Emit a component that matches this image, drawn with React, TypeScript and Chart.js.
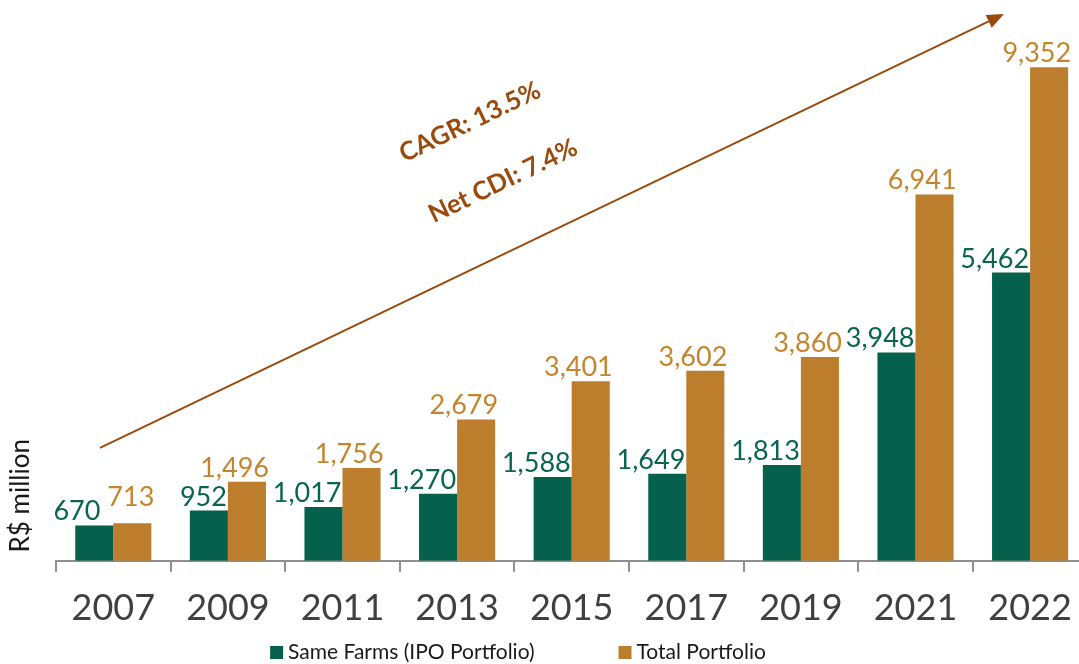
import React, { useEffect, useRef } from "react";
import { Chart, registerables } from "chart.js";

Chart.register(...registerables);

// ---- data ----
const years = ["2007", "2009", "2011", "2013", "2015", "2017", "2019", "2021", "2022"];
const sameFarms = [670, 952, 1017, 1270, 1588, 1649, 1813, 3948, 5462];
const totalPortfolio = [713, 1496, 1756, 2679, 3401, 3602, 3860, 6941, 9352];
const seriesNames = ["Same Farms (IPO Portfolio)", "Total Portfolio"];
const yAxisTitle = "R$ million";
const annotationTexts = ["CAGR: 13.5%", "Net CDI: 7.4%"];

// ---- style ----
const GREEN = "#05614B";
const GOLD = "#BC7E2C";
const GREEN_TEXT = "#0A6550";
const GOLD_TEXT = "#C4852F";
const BROWN = "#9A4A0C";
const AXIS = "#8f8f8f";
const FONT = "Lato, 'Open Sans', sans-serif";

const fmt = (v: number) => v.toLocaleString("en-US");

const overlayPlugin = {
  id: "overlay",
  afterDatasetsDraw(chart: any) {
    const ctx = chart.ctx as CanvasRenderingContext2D;
    const m0 = chart.getDatasetMeta(0);
    const m1 = chart.getDatasetMeta(1);
    ctx.save();
    ctx.font = `27px ${FONT}`;
    ctx.textAlign = "right";
    ctx.textBaseline = "alphabetic";
    for (let i = 0; i < years.length; i++) {
      const g = m0.data[i] as any;
      const t = m1.data[i] as any;
      const gText = fmt(sameFarms[i]);
      const tText = fmt(totalPortfolio[i]);
      const tRight = t.x + t.width / 2 + 3;
      let tBase = t.y - 5;
      let gRight = g.x + g.width / 2 - 1;
      const gBase = g.y - 5;
      const tLeft = tRight - ctx.measureText(tText).width;
      if (Math.abs(tBase - gBase) < 20 && gRight > tLeft - 6) {
        gRight = tLeft - 7;
        tBase = gBase - 14;
      }
      ctx.fillStyle = GREEN_TEXT;
      ctx.fillText(gText, gRight, gBase);
      ctx.fillStyle = GOLD_TEXT;
      ctx.fillText(tText, tRight, tBase);
    }
    ctx.restore();
  },
  afterDraw(chart: any) {
    const ctx = chart.ctx as CanvasRenderingContext2D;
    const a = chart.chartArea;
    ctx.save();

    // y-axis title
    ctx.save();
    ctx.translate(a.left - 35, a.bottom - 65);
    ctx.rotate(-Math.PI / 2);
    ctx.font = `26px ${FONT}`;
    ctx.fillStyle = "#1a1a1a";
    ctx.textAlign = "center";
    ctx.textBaseline = "middle";
    ctx.fillText(yAxisTitle, 0, 0);
    ctx.restore();

    // growth arrow
    const sx = a.left + 44;
    const sy = a.bottom - 113;
    const tx = a.left + 948;
    const ty = a.top - 19;
    const ang = Math.atan2(ty - sy, tx - sx);
    const headLen = 17;
    const headHalf = 7;
    const bx = tx - headLen * Math.cos(ang);
    const by = ty - headLen * Math.sin(ang);
    ctx.strokeStyle = BROWN;
    ctx.fillStyle = BROWN;
    ctx.lineWidth = 2;
    ctx.beginPath();
    ctx.moveTo(sx, sy);
    ctx.lineTo(bx, by);
    ctx.stroke();
    const px = -Math.sin(ang);
    const py = Math.cos(ang);
    ctx.beginPath();
    ctx.moveTo(tx, ty);
    ctx.lineTo(bx + px * headHalf, by + py * headHalf);
    ctx.lineTo(bx - px * headHalf, by - py * headHalf);
    ctx.closePath();
    ctx.fill();

    // annotation texts
    ctx.font = `bold 25.5px ${FONT}`;
    ctx.textAlign = "center";
    ctx.textBaseline = "middle";
    const centers = [
      [a.left + 414, a.top + 89],
      [a.left + 447, a.top + 148],
    ];
    annotationTexts.forEach((txt, k) => {
      ctx.save();
      ctx.translate(centers[k][0], centers[k][1]);
      ctx.rotate(ang);
      ctx.fillText(txt, 0, 0);
      ctx.restore();
    });

    // legend
    ctx.font = `21px ${FONT}`;
    ctx.textAlign = "left";
    ctx.textBaseline = "alphabetic";
    const box = 13;
    const boxGap = 5;
    const itemGap = 84;
    const colors = [GREEN, GOLD];
    const widths = seriesNames.map((n) => box + boxGap + ctx.measureText(n).width);
    const total = widths[0] + itemGap + widths[1];
    let x = 518 - total / 2;
    const baseY = 659;
    seriesNames.forEach((n, k) => {
      ctx.fillStyle = colors[k];
      ctx.fillRect(x, baseY - box, box, box);
      ctx.fillStyle = "#1a1a1a";
      ctx.fillText(n, x + box + boxGap, baseY);
      x += widths[k] + itemGap;
    });

    ctx.restore();
  },
};

export default function App() {
  const ref = useRef<HTMLCanvasElement | null>(null);
  useEffect(() => {
    document.body.style.margin = "0";
    document.body.style.overflow = "hidden";
    const chart = new Chart(ref.current as HTMLCanvasElement, {
      type: "bar",
      data: {
        labels: years,
        datasets: [
          {
            label: seriesNames[0],
            data: sameFarms,
            backgroundColor: GREEN,
            borderWidth: 0,
            categoryPercentage: 0.664,
            barPercentage: 1,
          },
          {
            label: seriesNames[1],
            data: totalPortfolio,
            backgroundColor: GOLD,
            borderWidth: 0,
            categoryPercentage: 0.664,
            barPercentage: 1,
          },
        ],
      },
      options: {
        responsive: false,
        animation: false,
        devicePixelRatio: 1,
        layout: { padding: { left: 56, right: 12.6, top: 33, bottom: 19 } },
        plugins: {
          legend: { display: false },
          tooltip: { enabled: false },
        },
        scales: {
          x: {
            offset: true,
            grid: {
              display: true,
              offset: true,
              drawOnChartArea: false,
              drawTicks: true,
              tickLength: 11,
              color: AXIS,
              lineWidth: 2,
            },
            border: { display: true, color: AXIS, width: 2 },
            ticks: {
              font: { family: FONT, size: 36 },
              color: "#404040",
              padding: 15,
              maxRotation: 0,
              autoSkip: false,
            },
          },
          y: { display: false, min: 0, max: 10000 },
        },
      },
      plugins: [overlayPlugin],
    });
    return () => chart.destroy();
  }, []);
  return (
    <div
      style={{
        position: "fixed",
        left: 0,
        top: 0,
        width: 1079,
        height: 664,
        overflow: "hidden",
        background: "#fff",
      }}
    >
      <canvas ref={ref} width={1100} height={664} style={{ display: "block" }} />
    </div>
  );
}
